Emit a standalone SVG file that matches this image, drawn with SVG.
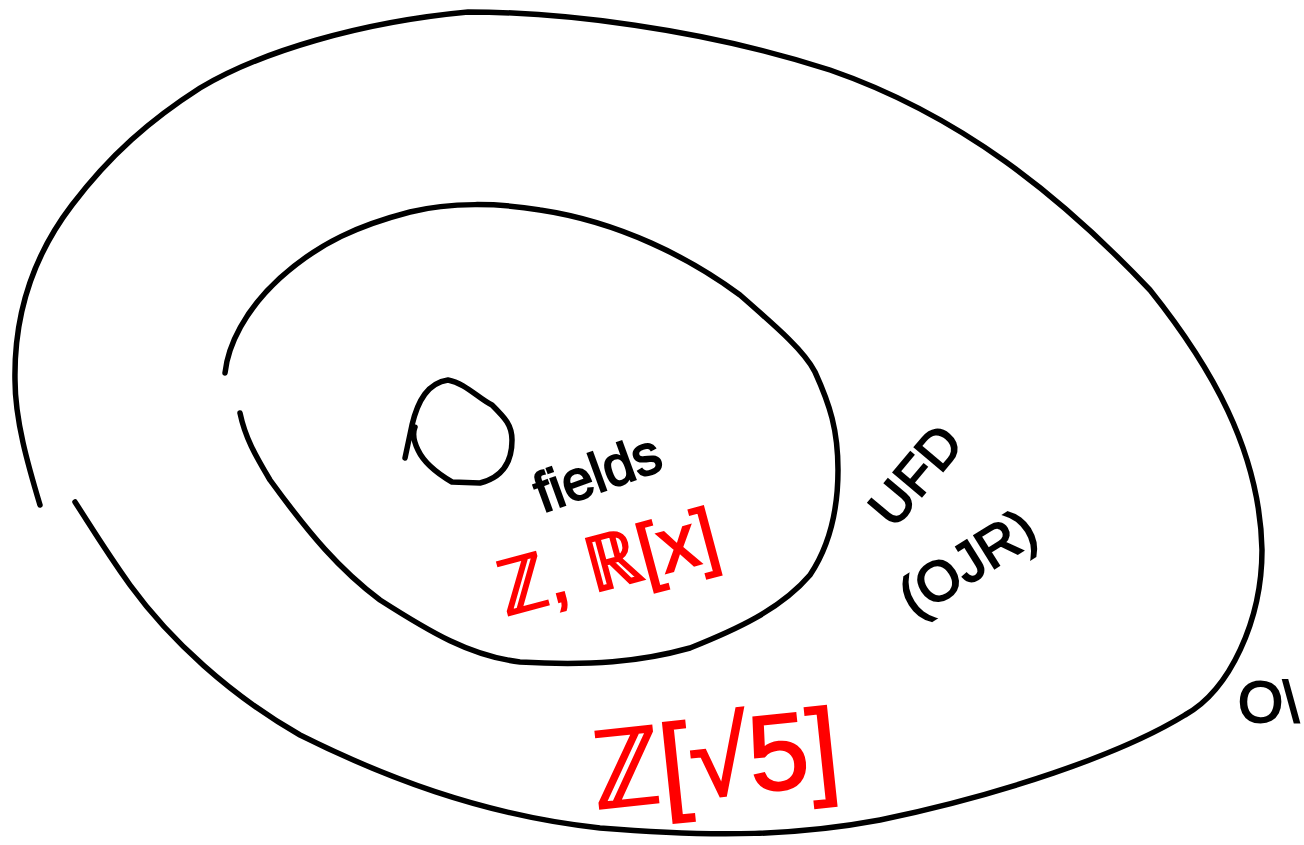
<svg xmlns="http://www.w3.org/2000/svg" width="1304" height="845" viewBox="0 0 1304 845">
<style>
.ln{fill:none;stroke:#000;stroke-width:5.5;stroke-linecap:round;stroke-linejoin:round}
.bk{font-family:"Liberation Sans",Arial,sans-serif;fill:#000;stroke:#000;stroke-width:2}
.rd{font-family:"Liberation Sans",Arial,sans-serif;fill:#f00;stroke:#f00;stroke-width:2}
</style>
<rect width="1304" height="845" fill="#fff"/>
<g id="outer">
<path class="ln" d="M40,505 C28,465 15,420 15,380 C14,320 30,260 72,205 C110,155 150,120 200,88 C260,52 360,22 468,12 C560,12 700,28 830,70 C960,115 1060,195 1150,290 C1210,365 1260,450 1262,550 C1262,620 1230,690 1185,715 C1120,755 1000,795 880,820 C800,835 720,838 600,828 C480,815 380,775 300,735 C230,695 170,640 130,585 C105,550 90,525 75,502"/>
<text class="bk" x="1238" y="722" font-size="58">O\</text>
</g>
<g id="middle">
<path class="ln" d="M225,373 C228,345 245,310 280,278 C320,242 360,225 410,212 C450,202 500,203 540,210 C620,222 690,258 740,295 C780,330 805,352 815,372 C830,405 838,430 838,470 C838,510 830,545 810,575 C780,610 735,630 690,648 C640,662 590,666 520,662 C470,656 430,632 380,600 C340,570 310,535 270,480 C255,455 245,437 240,413"/>
</g>
<g id="inner">
<path class="ln" d="M405,458 L412,425 C418,400 428,383 448,380 C465,383 478,398 492,405 C505,418 512,425 512,440 C512,465 500,478 480,483 L452,482 C440,475 425,465 418,450 C413,440 413,432 415,427"/>
<text class="bk" x="598" y="492" font-size="56" text-anchor="middle" transform="rotate(-20 598 475)">fields</text>
</g>
<g id="pid">
<text class="rd" x="607" y="588" font-size="76" text-anchor="middle" transform="rotate(-15 607 560)">ℤ, ℝ[x]</text>
</g>
<g id="ufd">
<text class="bk" x="915" y="494" font-size="54" text-anchor="middle" transform="rotate(-50 915 475)">UFD</text>
<text class="bk" x="967" y="582" font-size="56" text-anchor="middle" transform="rotate(-32 967 562)">(OJR)</text>
</g>
<g id="z5">
<text class="rd" x="714" y="796" font-size="108" text-anchor="middle" transform="rotate(-6 714 750)">ℤ[√5]</text>
</g>
<g id="connectors"></g>
</svg>
